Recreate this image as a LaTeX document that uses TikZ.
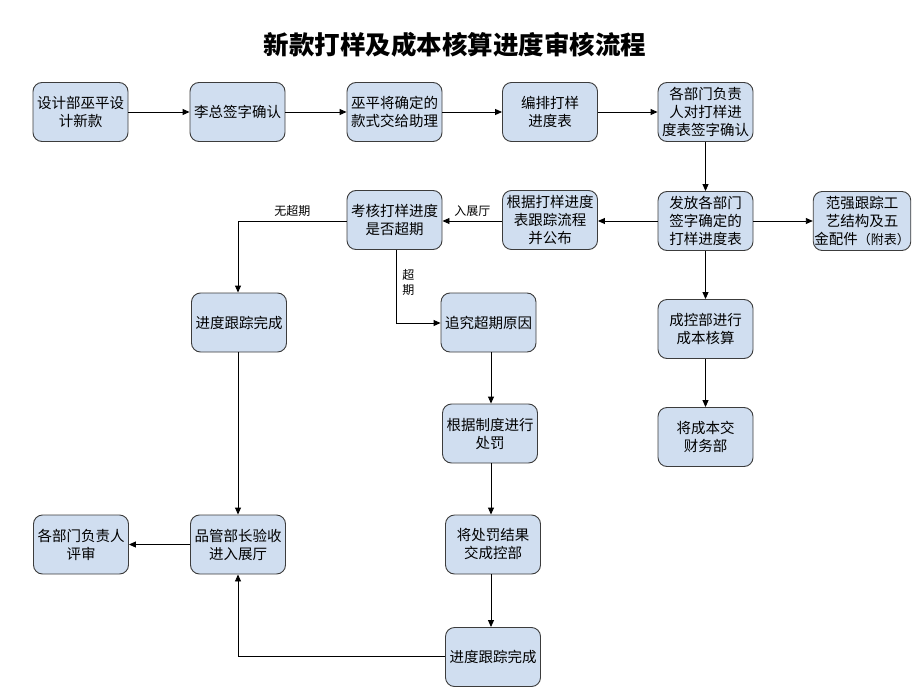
\documentclass[tikz,border=0pt]{standalone}
\usepackage{fontspec}
\setmainfont{Noto Sans CJK SC}
\usetikzlibrary{arrows.meta}
\definecolor{boxfill}{RGB}{208,222,240}
\definecolor{boxline}{RGB}{60,60,60}
\tikzset{
  box/.style={draw=boxline, fill=boxfill, rounded corners=9pt, line width=0.9pt,
    minimum width=95pt, minimum height=59pt, inner sep=1pt, align=center,
    font=\fontsize{14.5}{18}\selectfont},
  conn/.style={line width=0.9pt, -{Triangle[length=7pt,width=6pt]}},
  lbl/.style={font=\fontsize{12}{14}\selectfont, inner sep=1pt}
}
\begin{document}
\begin{tikzpicture}[x=1pt,y=-1pt]
\useasboundingbox (0,0) rectangle (920,690);
\node[font=\fontsize{25.5}{30}\selectfont\bfseries] (title) at (455,45) {新款打样及成本核算进度审核流程};

\node[box] (a1) at (80.5,112) {设计部巫平设\\计新款};
\node[box] (a2) at (237.5,112) {李总签字确认};
\node[box] (a3) at (394.5,112) {巫平将确定的\\款式交给助理};
\node[box] (a4) at (550,112) {编排打样\\进度表};
\node[box] (a5) at (705.5,112) {各部门负责\\人对打样进\\度表签字确认};

\node[box] (b1) at (705.5,221) {发放各部门\\签字确定的\\打样进度表};
\node[box] (b2) at (862,221) {范强跟踪工\\艺结构及五\\金配件{\fontsize{13}{14}\selectfont（附表）}};
\node[box] (b3) at (550,220) {根据打样进度\\表跟踪流程\\并公布};
\node[box] (b4) at (394.5,220) {考核打样进度\\是否超期};

\node[box] (c1) at (239,322.5) {进度跟踪完成};
\node[box] (c2) at (488.5,322.5) {追究超期原因};
\node[box] (c3) at (705.5,329) {成控部进行\\成本核算};
\node[box] (c4) at (705.5,437) {将成本交\\财务部};

\node[box] (d1) at (490,433.5) {根据制度进行\\处罚};
\node[box] (d2) at (493,544.5) {将处罚结果\\交成控部};
\node[box] (d3) at (493,657) {进度跟踪完成};
\node[box] (e1) at (238,544.5) {品管部长验收\\进入展厅};
\node[box] (e2) at (81,544.5) {各部门负责人\\评审};

\coordinate (k1) at (238,221);
\coordinate (k2) at (396,323);
\coordinate (k3) at (238,656);

\draw[conn] (a1) -- (a2);
\draw[conn] (a2) -- (a3);
\draw[conn] (a3) -- (a4);
\draw[conn] (a4) -- (a5);
\draw[conn] (a5) -- (b1);
\draw[conn] (b1.west |- 0,221) -- (b3.east |- 0,221);
\draw[conn] (b1) -- (b2);
\draw[conn] (b3.west |- 0,221) -- node[lbl, above=3pt] (l1) {入展厅} (b4.east |- 0,221);
\draw[conn] (b4.west |- k1) -- node[lbl, above=3pt, pos=0.5] (l2) {无超期} (k1) -- (c1.north -| k1);
\draw[conn] (b4.south -| k2) -- node[lbl, right=5pt, pos=0.45, align=center, font=\fontsize{12}{15}\selectfont] (l3) {超\\期} (k2) -- (c2.west |- k2);
\draw[conn] (b1) -- (c3);
\draw[conn] (c3) -- (c4);
\draw[conn] (c2.south -| 491,0) -- (d1.north -| 491,0);
\draw[conn] (d1.south -| 491,0) -- (d2.north -| 491,0);
\draw[conn] (d2.south -| 491,0) -- (d3.north -| 491,0);
\draw[conn] (c1.south -| k1) -- (e1.north -| k1);
\draw[conn] (d3.west |- k3) -- (k3) -- (e1.south -| k3);
\draw[conn] (e1) -- (e2);
\end{tikzpicture}
\end{document}
